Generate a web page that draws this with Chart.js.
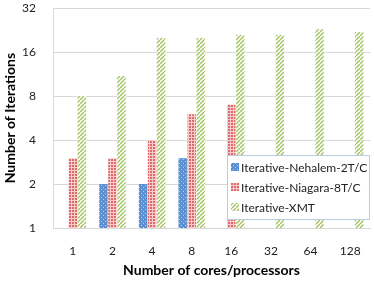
<!DOCTYPE html>
<html lang="en">
  <head>
    <meta charset="UTF-8" />
    <title>Iterations</title>
    <script src="https://cdn.jsdelivr.net/npm/chart.js"></script>
    <style>
      body { margin: 0; background: #fff; }
      .chart-box { width: 374px; height: 285px; }
    </style>
  </head>
  <body>
    <div class="chart-box">
      <canvas id="myChart"></canvas>
    </div>
    <script>
      const cores = ["1", "2", "4", "8", "16", "32", "64", "128"];
      const nehalem = [null, 2, 2, 3, null, null, null, null];
      const niagara = [3, 3, 4, 6, 7, null, null, null];
      const xmt = [8, 11, 20, 20, 21, 21, 23, 22];
      const yTicks = [1, 2, 4, 8, 16, 32];
      const seriesNames = ["Iterative-Nehalem-2T/C", "Iterative-Niagara-8T/C", "Iterative-XMT"];

      const makePattern = function (kind) {
        const c = document.createElement("canvas");
        const g = c.getContext("2d");
        if (kind === "dots") {
          c.width = 4; c.height = 4;
          g.fillStyle = "#5b8fd0";
          g.fillRect(0, 0, 4, 4);
          g.fillStyle = "#b8d0ee";
          g.fillRect(1, 1, 1, 1);
          g.fillRect(3, 3, 1, 1);
        } else if (kind === "grid") {
          c.width = 3; c.height = 3;
          g.fillStyle = "#e06a6a";
          g.fillRect(0, 0, 3, 3);
          g.fillStyle = "#f7cccc";
          g.fillRect(0, 2, 3, 1);
          g.fillRect(2, 0, 1, 3);
        } else {
          c.width = 4; c.height = 4;
          g.fillStyle = "#ffffff";
          g.fillRect(0, 0, 4, 4);
          g.strokeStyle = "#a5c466";
          g.lineWidth = 1.5;
          for (let i = -4; i <= 8; i += 4) {
            g.beginPath();
            g.moveTo(i, 4);
            g.lineTo(i + 4, 0);
            g.stroke();
          }
        }
        return g.createPattern(c, "repeat");
      };
      const fills = [makePattern("dots"), makePattern("grid"), makePattern("stripes")];

      // legend drawn inside the plot, like the original
      const boxLegend = {
        id: "boxLegend",
        afterDraw(chart) {
          const c = chart.ctx;
          const x = 227, y = 155, w = 142, h = 64;
          c.save();
          c.fillStyle = "#fff";
          c.fillRect(x, y, w, h);
          c.strokeStyle = "#b9cde5";
          c.lineWidth = 1;
          c.strokeRect(x + 0.5, y + 0.5, w, h);
          c.font = "12px Lato, 'Open Sans', sans-serif";
          c.textBaseline = "middle";
          seriesNames.forEach(function (name, i) {
            const cy = y + 12 + i * 20;
            c.fillStyle = fills[i];
            c.fillRect(x + 4, cy - 4, 8, 8);
            c.fillStyle = "#222";
            c.fillText(name, x + 14, cy + 1);
          });
          c.restore();
        },
      };

      new Chart(document.getElementById("myChart"), {
        type: "bar",
        data: {
          labels: cores,
          datasets: [
            { label: seriesNames[0], data: nehalem, backgroundColor: fills[0], borderWidth: 0 },
            { label: seriesNames[1], data: niagara, backgroundColor: fills[1], borderWidth: 0 },
            { label: seriesNames[2], data: xmt, backgroundColor: fills[2], borderWidth: 0 },
          ],
        },
        options: {
          responsive: true,
          maintainAspectRatio: false,
          animation: false,
          layout: { padding: { top: 0, right: 4, left: 0, bottom: 0 } },
          datasets: { bar: { categoryPercentage: 0.68, barPercentage: 0.94 } },
          plugins: {
            legend: { display: false },
            tooltip: { enabled: false },
          },
          scales: {
            x: {
              grid: { display: false },
              border: { color: "#d9d9d9" },
              ticks: { color: "#222", font: { size: 12, family: "Lato, 'Open Sans', sans-serif" }, padding: 8 },
              title: {
                display: true,
                text: "Number of cores/processors",
                color: "#000",
                font: { size: 14, weight: "bold", family: "Lato, 'Open Sans', sans-serif" },
                padding: { top: 12, bottom: 6 },
              },
              afterFit(scale) { scale.height = 57; },
            },
            y: {
              type: "logarithmic",
              min: 1,
              max: 32,
              afterBuildTicks(scale) {
                scale.ticks = yTicks.map((v) => ({ value: v }));
              },
              grid: { color: "#d9d9d9", drawTicks: true, tickLength: 16, tickColor: "rgba(0,0,0,0)" },
              border: { color: "#d9d9d9" },
              ticks: {
                color: "#222",
                font: { size: 12, family: "Lato, 'Open Sans', sans-serif" },
                padding: 1,
                callback: (v) => String(v),
              },
              title: {
                display: true,
                text: "Number of Iterations",
                color: "#000",
                font: { size: 14, weight: "bold", family: "Lato, 'Open Sans', sans-serif" },
                padding: { top: 2, bottom: 0 },
              },
              afterFit(scale) { scale.width = 53; },
            },
          },
        },
        plugins: [boxLegend],
      });
    </script>
  </body>
</html>
